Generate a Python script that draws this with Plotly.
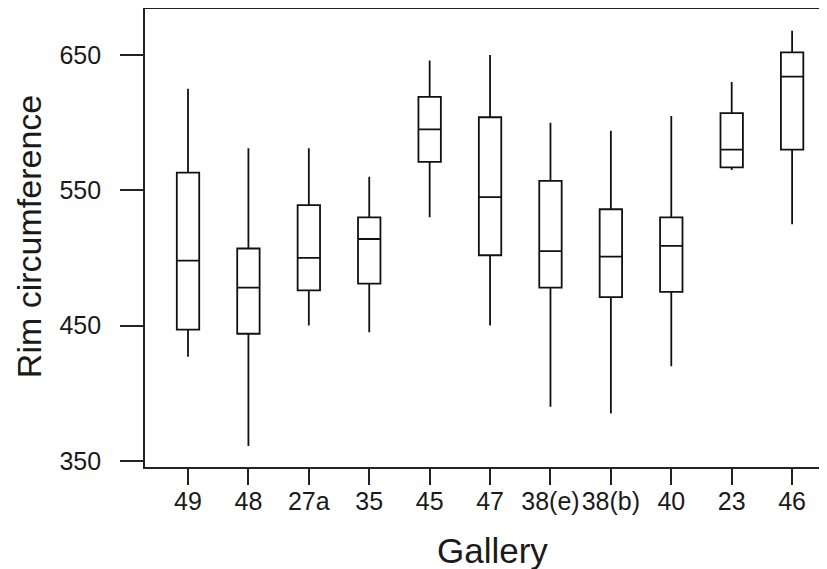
import plotly.graph_objects as go

galleries = ["49", "48", "27a", "35", "45", "47", "38(e)", "38(b)", "40", "23", "46"]
lower = [427, 361, 450, 445, 530, 450, 390, 385, 420, 565, 525]
q1 = [447, 444, 476, 481, 571, 502, 478, 471, 475, 567, 580]
median = [498, 478, 500, 514, 595, 545, 505, 501, 509, 580, 634]
q3 = [563, 507, 539, 530, 619, 604, 557, 536, 530, 607, 652]
upper = [625, 581, 581, 560, 646, 650, 600, 594, 605, 630, 668]
y_ticks = [350, 450, 550, 650]

fig = go.Figure()
fig.add_trace(go.Box(
    x=galleries, q1=q1, median=median, q3=q3,
    lowerfence=lower, upperfence=upper,
    boxpoints=False, whiskerwidth=0,
    fillcolor="white", line=dict(color="#111", width=1.8),
    showlegend=False, hoverinfo="skip",
))

fig.update_layout(
    width=827, height=569,
    margin=dict(l=137, r=0, t=1, b=110),
    paper_bgcolor="white", plot_bgcolor="white",
    boxgap=0.47,
    font=dict(family="Liberation Sans, Arial, sans-serif", color="#1a1a1a"),
    xaxis=dict(
        type="category", range=[-0.712, 10.71],
        showline=True, linecolor="#222", linewidth=1.8, mirror=True,
        ticks="outside", ticklen=16, tickwidth=1.6, tickcolor="#222",
        ticklabelstandoff=-5, tickangle=0,
        tickfont=dict(size=25, color="#1a1a1a"), showgrid=False, zeroline=False,
    ),
    yaxis=dict(
        range=[345.5, 684.0], tickvals=y_ticks,
        showline=True, linecolor="#222", linewidth=1.8,
        ticks="outside", ticklen=23, tickwidth=1.6, tickcolor="#222",
        ticklabelstandoff=14,
        tickfont=dict(size=25, color="#1a1a1a"), showgrid=False, zeroline=False,
    ),
    annotations=[
        dict(text="Gallery", xref="paper", yref="paper", x=0.503, y=-0.183,
             xanchor="center", yanchor="middle", showarrow=False,
             font=dict(size=35, color="#1a1a1a")),
        dict(text="Rim circumference", xref="paper", yref="paper", x=-0.168, y=0.502,
             xanchor="center", yanchor="middle", showarrow=False, textangle=-90,
             font=dict(size=34, color="#1a1a1a")),
    ],
)

fig.write_html("out.html")
